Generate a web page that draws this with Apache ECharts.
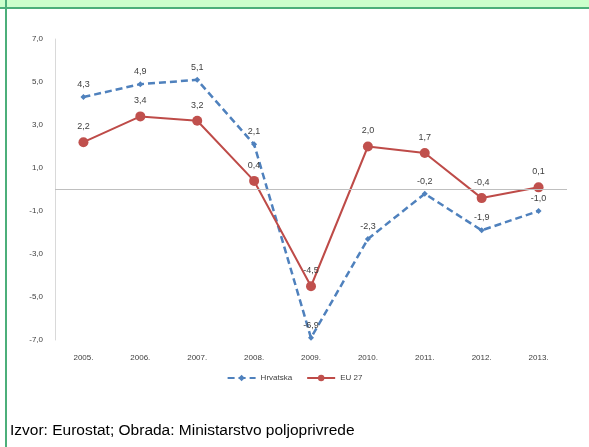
<!DOCTYPE html>
<html>
<head>
<meta charset="utf-8">
<script src="https://cdn.jsdelivr.net/npm/echarts@6/dist/echarts.min.js"></script>
<style>
html,body{margin:0;padding:0;background:#fff;}
#c{width:589px;height:447px;}
</style>
</head>
<body>
<div id="c"></div>
<script>
var categories = ['2005.', '2006.', '2007.', '2008.', '2009.', '2010.', '2011.', '2012.', '2013.'];
var hrvatska = [4.3, 4.9, 5.1, 2.1, -6.9, -2.3, -0.2, -1.9, -1.0];
var eu27 = [2.2, 3.4, 3.2, 0.4, -4.5, 2.0, 1.7, -0.4, 0.1];
var seriesNames = ['Hrvatska', 'EU 27'];
var footer = 'Izvor: Eurostat; Obrada: Ministarstvo poljoprivrede';

function fmt(v) { return v.toFixed(1).replace('.', ','); }

var chart = echarts.init(document.getElementById('c'), null, {renderer: 'canvas'});
chart.setOption({
  animation: false,
  backgroundColor: '#ffffff',
  textStyle: {fontFamily: 'Liberation Sans, Arial, sans-serif'},
  grid: {left: 55, right: 22, top: 39, bottom: 107, containLabel: false},
  legend: {
    bottom: 60, left: 'center',
    itemWidth: 28, itemHeight: 8, itemGap: 14,
    textStyle: {fontSize: 8, color: '#404040'},
    data: seriesNames
  },
  xAxis: {
    type: 'category',
    data: categories,
    boundaryGap: true,
    axisLine: {show: false},
    axisTick: {show: false},
    axisLabel: {fontSize: 8, color: '#404040', margin: 14}
  },
  yAxis: {
    type: 'value',
    min: -7, max: 7, interval: 2,
    splitLine: {show: false},
    axisLine: {show: true, lineStyle: {color: '#d9d9d9', width: 1}},
    axisTick: {show: false},
    axisLabel: {fontSize: 8, color: '#404040', margin: 12, formatter: function (v) { return fmt(v); }}
  },
  series: [
    {
      name: seriesNames[0], type: 'line', data: hrvatska,
      color: '#4a7ebb',
      lineStyle: {type: [7, 4], width: 2.5, color: '#4f81bd'},
      symbol: 'diamond', symbolSize: 6,
      itemStyle: {color: '#4f81bd'},
      label: {show: true, position: 'top', distance: 5, fontSize: 9, color: '#404040', formatter: function (p) { return fmt(p.value); }},
      markLine: {
        silent: true, symbol: 'none', label: {show: false},
        lineStyle: {color: '#bfbfbf', type: 'solid', width: 1},
        data: [{yAxis: 0}]
      },
      z: 2
    },
    {
      name: seriesNames[1], type: 'line', data: eu27,
      color: '#c0504d',
      lineStyle: {type: 'solid', width: 2, color: '#be4b48'},
      symbol: 'circle', symbolSize: 10,
      itemStyle: {color: '#c0504d'},
      label: {show: true, position: 'top', distance: 6, fontSize: 9, color: '#404040', formatter: function (p) { return fmt(p.value); }},
      z: 3
    }
  ],
  graphic: [
    {type: 'rect', shape: {x: 0, y: 0, width: 589, height: 7}, style: {fill: '#ccffcc'}, silent: true},
    {type: 'rect', shape: {x: 0, y: 7, width: 589, height: 2}, style: {fill: '#4caf7a'}, silent: true},
    {type: 'rect', shape: {x: 5, y: 0, width: 2, height: 447}, style: {fill: '#4caf7a'}, silent: true},
    {type: 'text', left: 10, top: 423, style: {text: footer, font: '15.5px "Liberation Sans", Arial, sans-serif', fill: '#000000'}}
  ]
});
</script>
</body>
</html>
